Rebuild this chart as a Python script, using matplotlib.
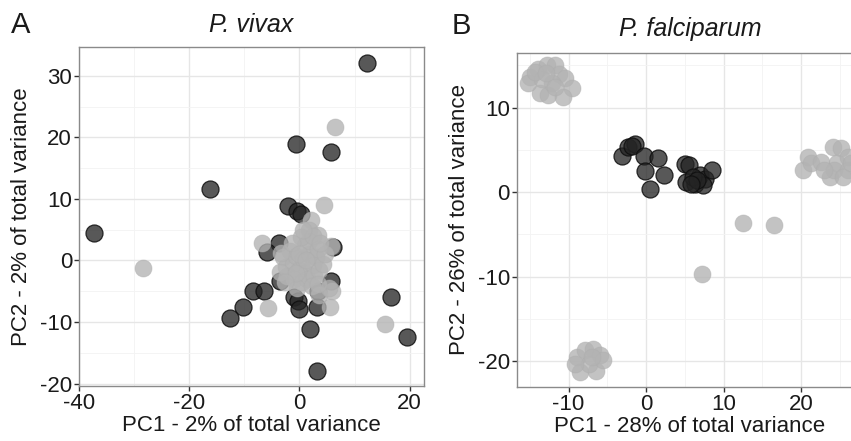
import numpy as np
import matplotlib
matplotlib.use("Agg")
import matplotlib.pyplot as plt
from matplotlib.ticker import MultipleLocator

plt.rcParams['font.family'] = ['Liberation Sans', 'DejaVu Sans']
plt.rcParams['axes.unicode_minus'] = False

# P. vivax (panel A)
vivax_dark_x = [12.2, -0.7, 5.7, -16.2, -37.3, -2.1, -0.4, 0.3, -3.7, -5.8, 6.0,
                -3.6, -8.5, -6.4, -10.3, -12.6, -0.9, -0.3, 0.0, 3.2, 3.4, 5.7,
                16.6, 19.6, 2.0, 3.1]
vivax_dark_y = [32.1, 18.9, 17.7, 11.7, 4.4, 8.9, 8.1, 7.5, 2.8, 1.3, 2.2,
                -3.4, -4.9, -5.0, -7.5, -9.4, -5.9, -6.6, -7.9, -7.5, -5.0, -3.4,
                -5.9, -12.4, -11.1, -17.9]
vivax_light_x = [6.5, -28.3, 4.5, 2.1, 1.8, 3.4, -6.8, 15.6, -5.7, 5.6, 5.9, 3.6,
                 5.4, 5.8,
                 -3.0, -2.4, -1.8, -1.2, -0.6, 0.0, 0.6, 1.2, 1.8, 2.4, 3.0,
                 -2.2, -1.0, 0.4, 1.4, 2.6, 3.6, 4.2, -3.6, -3.4, 1.0, 1.8,
                 0.2, 3.4, 4.6, -0.4, 2.2, 3.4, -1.4, 0.0, -0.6, 1.2, 2.4,
                 3.8, -2.6, 0.7]
vivax_light_y = [21.7, -1.2, 9.0, 6.6, 5.0, 4.2, 2.8, -10.4, -7.8, -7.5, -5.0, -5.6,
                 -4.4, 2.3,
                 0.5, -1.0, 1.5, -0.5, 0.8, -1.5, 0.2, -2.0, 1.0, -0.8, 0.5,
                 -2.5, -3.0, -3.5, -3.0, -2.5, -1.5, -0.5, -1.8, 1.2, 2.5, 3.2,
                 3.8, 1.8, 1.0, -4.5, -4.2, -3.8, 2.8, 1.0, -2.0, 0.0, 4.0,
                 2.8, -3.5, 5.0]

# P. falciparum (panel B)
falc_dark_x = [-3.1, -2.3, -1.4, -1.8, -0.3, 1.6, -0.1, 2.3, 0.5, 5.0, 5.6, 5.2,
               6.3, 7.0, 7.6, 8.5, 7.4, 6.0, 6.6, 5.8]
falc_dark_y = [4.3, 5.4, 5.7, 5.5, 4.3, 4.1, 2.5, 2.0, 0.4, 3.3, 3.2, 1.2,
               1.0, 2.0, 1.6, 2.6, 0.8, 1.8, 1.4, 1.0]
falc_light_x = [12.5, 16.5, 7.2,
                -15.0, -13.9, -12.8, -11.7, -11.3, -10.5, -9.6, -13.7, -12.6,
                -10.7, -15.2, -12.2, -13.4, -14.3, -11.8, -12.9,
                -8.9, -7.9, -6.8, -5.9, -8.5, -6.4, -7.4, -9.2, -5.5, -7.0,
                20.2, 20.9, 21.3, 22.6, 23.7, 24.1, 25.2, 24.7, 24.3, 26.0,
                26.0, 23.0, 25.4, 26.5]
falc_light_y = [-3.6, -3.9, -9.7,
                13.6, 14.6, 15.0, 15.0, 14.0, 13.5, 12.3, 11.7, 11.5,
                11.3, 12.9, 12.9, 13.4, 14.2, 12.5, 14.1,
                -19.5, -18.7, -18.5, -19.3, -21.3, -21.1, -20.3, -20.3, -19.9, -19.5,
                2.6, 4.2, 3.4, 3.6, 1.8, 5.4, 5.2, 3.4, 2.6, 4.2,
                2.6, 2.6, 1.8, 3.4]

dark_face = (0.14, 0.14, 0.14, 0.76)
dark_edge = (0.06, 0.06, 0.06, 0.85)
light_face = (0.70, 0.70, 0.70, 0.78)
light_edge = (0.68, 0.68, 0.68, 0.5)
text_col = '#1a1a1a'
fs = 16


def style_axes(ax, major, minor):
    ax.set_facecolor('white')
    ax.xaxis.set_major_locator(MultipleLocator(major[0]))
    ax.yaxis.set_major_locator(MultipleLocator(major[1]))
    ax.xaxis.set_minor_locator(MultipleLocator(minor[0]))
    ax.yaxis.set_minor_locator(MultipleLocator(minor[1]))
    ax.grid(True, which='major', color='#e6e6e6', linewidth=1.0)
    ax.grid(True, which='minor', color='#f3f3f3', linewidth=0.6)
    ax.set_axisbelow(True)
    ax.tick_params(which='major', length=3.5, width=1.0, color='#333333',
                   labelsize=fs, labelcolor=text_col, pad=1.5)
    ax.tick_params(which='minor', length=0)
    for s in ax.spines.values():
        s.set_color('#8a8a8a')
        s.set_linewidth(1.0)


def draw(ax, dx, dy, lx, ly):
    ax.scatter(dx, dy, s=150, facecolors=[dark_face], edgecolors=[dark_edge],
               linewidths=0.9, zorder=3)
    ax.scatter(lx, ly, s=150, facecolors=[light_face], edgecolors=[light_edge],
               linewidths=0.6, zorder=4)


fig = plt.figure(figsize=(8.51, 4.41), dpi=100)

axA = fig.add_axes([79 / 851, 55 / 441, 345 / 851, 339 / 441])
style_axes(axA, (20, 10), (10, 5))
draw(axA, vivax_dark_x, vivax_dark_y, vivax_light_x, vivax_light_y)
axA.set_xlim(-40, 22.6)
axA.set_ylim(-20.4, 34.7)
axA.set_xlabel('PC1 - 2% of total variance', fontsize=fs, color=text_col, labelpad=1)
axA.set_ylabel('PC2 - 2% of total variance', fontsize=fs, color=text_col, labelpad=5.5)
axA.set_title('P. vivax', fontsize=18, style='italic', color=text_col, pad=11)

axB = fig.add_axes([516.7 / 851, 54.3 / 441, 346.3 / 851, 334 / 441])
style_axes(axB, (10, 10), (5, 5))
draw(axB, falc_dark_x, falc_dark_y, falc_light_x, falc_light_y)
axB.set_xlim(-16.7, 28.0)
axB.set_ylim(-23.0, 16.5)
axB.set_xlabel('PC1 - 28% of total variance', fontsize=fs, color=text_col, labelpad=1)
axB.set_ylabel('PC2 - 26% of total variance', fontsize=fs, color=text_col, labelpad=5.5)
axB.set_title('P. falciparum', fontsize=18, style='italic', color=text_col, pad=12)

fig.text(21 / 851, 1 - 25 / 441, 'A', fontsize=21, color=text_col, ha='center', va='center')
fig.text(461 / 851, 1 - 26 / 441, 'B', fontsize=21, color=text_col, ha='center', va='center')

fig.savefig('out.png', dpi=100)
